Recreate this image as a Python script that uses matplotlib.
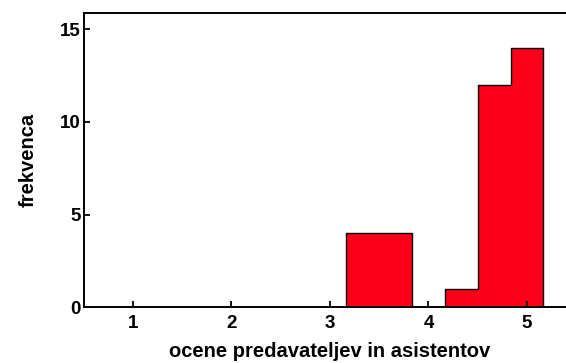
import numpy as np
import matplotlib
matplotlib.use("Agg")
import matplotlib.pyplot as plt

# bin edges (width 1/3) and counts
binEdges = [3 + 1/6 + i/3 for i in range(7)]
binCounts = [4, 4, 0, 1, 12, 14]
xTicks = [1, 2, 3, 4, 5]
yTicks = [0, 5, 10, 15]

plt.rcParams['font.family'] = ['Liberation Sans', 'DejaVu Sans']
plt.rcParams['font.weight'] = 'bold'

fig = plt.figure(figsize=(5.66, 3.63), dpi=100)
ax = fig.add_axes([0.148, 0.154, 0.87, 0.811])

# stepped histogram: equal neighbouring bins show no dividing line
centers = [(binEdges[i] + binEdges[i + 1]) / 2 for i in range(len(binCounts))]
ax.hist(centers, bins=binEdges, weights=binCounts, histtype='stepfilled',
        facecolor='#FA0019', edgecolor='black', linewidth=1.0)

ax.set_xlim(0.5, 5.5)
ax.set_ylim(0, 15.9)
ax.set_xticks(xTicks)
ax.set_yticks(yTicks)
ax.tick_params(direction='in', length=4, width=1.3, labelsize=13.5, pad=6)
ax.tick_params(axis='y', length=4.5, pad=2)
for lab in ax.get_xticklabels() + ax.get_yticklabels():
    lab.set_fontweight('bold')

for side in ['left', 'bottom', 'top']:
    ax.spines[side].set_linewidth(1.4)
ax.spines['right'].set_visible(False)

ax.set_xlabel('ocene predavateljev in asistentov', fontsize=14.5,
              fontweight='bold', labelpad=7)
ax.set_ylabel('frekvenca', fontsize=14.5, fontweight='bold', labelpad=16)

fig.savefig('out.png', dpi=100)
